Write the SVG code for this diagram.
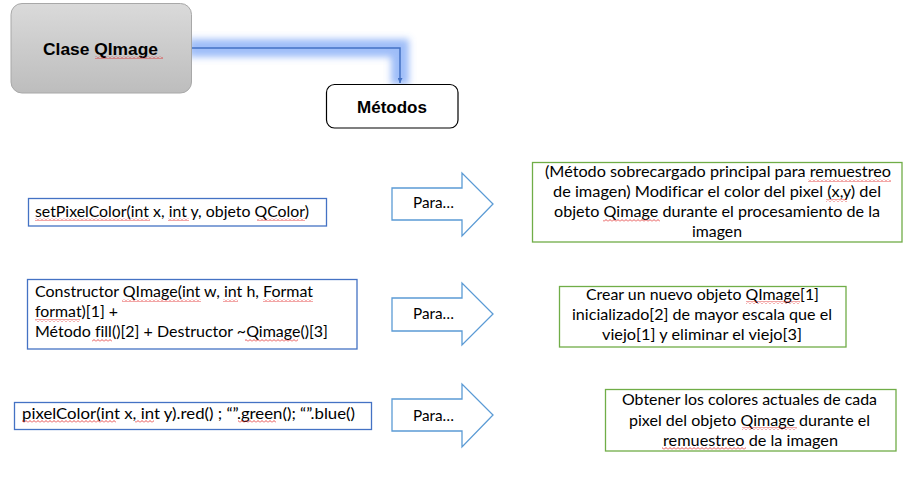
<svg xmlns="http://www.w3.org/2000/svg" width="909" height="481" viewBox="0 0 909 481">
<defs>
<linearGradient id="gray" x1="0" y1="0" x2="0" y2="1">
<stop offset="0" stop-color="#dadada"/>
<stop offset="1" stop-color="#bdbdbd"/>
</linearGradient>
<filter id="glow" x="-30%" y="-100%" width="160%" height="300%">
<feGaussianBlur stdDeviation="3.5"/>
</filter>
<marker id="ah" viewBox="0 0 10 10" refX="10" refY="5" markerWidth="5" markerHeight="5" orient="auto" markerUnits="userSpaceOnUse">
<path d="M0,0 L10,5 L0,10 z" fill="#4472c4"/>
</marker>
<pattern id="sq" width="4" height="3" patternUnits="userSpaceOnUse">
<path d="M0,2.5 L2,0.5 L4,2.5" fill="none" stroke="#e02020" stroke-width="0.8"/>
</pattern>
<style>
.title{font-family:"Liberation Sans",Arial,sans-serif;font-weight:bold;font-size:17px;fill:#000}
.t{font-family:Lato,"Liberation Sans",sans-serif;font-size:16px;fill:#000;font-variant-ligatures:none}
.c{font-family:Lato,"Liberation Sans",sans-serif;font-size:16px;fill:#000;text-anchor:middle;font-variant-ligatures:none}
.lbox{fill:#fff;stroke:#4472c4;stroke-width:1.3}
.rbox{fill:#fff;stroke:#70ad47;stroke-width:1.3}
.para{fill:#fff;stroke:#5b9bd5;stroke-width:1.3}
.sq{fill:url(#sq)}
</style>
</defs>
<rect width="909" height="481" fill="#fff"/>

<g id="connectors">
<path d="M188,48 H400 V85" fill="none" stroke="#4f86f2" stroke-width="18" stroke-opacity="0.55" filter="url(#glow)"/>
<path d="M191,48 H400 V83" fill="none" stroke="#4472c4" stroke-width="1.5" marker-end="url(#ah)"/>
</g>

<g id="clase-qimage">
<rect x="11" y="3.5" width="180.5" height="89.5" rx="11" fill="url(#gray)" stroke="#a8a8a8" stroke-width="1"/>
<text class="title" x="43" y="55" textLength="115" lengthAdjust="spacingAndGlyphs">Clase QImage</text>
<rect class="sq" x="95" y="56" width="68" height="3"/>
</g>

<g id="metodos">
<rect x="326.5" y="84.5" width="131.5" height="43.5" rx="8" fill="#fff" stroke="#000" stroke-width="1.2"/>
<text class="title" x="357" y="113" textLength="70" lengthAdjust="spacingAndGlyphs">Métodos</text>
</g>

<g id="setpixelcolor">
<rect class="lbox" x="28.5" y="198.5" width="298" height="27.5"/>
<text class="t" x="35" y="217" textLength="274" lengthAdjust="spacingAndGlyphs">setPixelColor(int x, int y, objeto QColor)</text>
<rect class="sq" x="35" y="218" width="115" height="3"/>
<rect class="sq" x="168" y="218" width="21" height="3"/>
<rect class="sq" x="257" y="218" width="48" height="3"/>
</g>

<g id="constructor">
<rect class="lbox" x="27.5" y="279.5" width="329.5" height="69.5"/>
<text class="t" x="35" y="297" textLength="278" lengthAdjust="spacingAndGlyphs">Constructor QImage(int w, int h, Format</text>
<text class="t" x="35" y="317" textLength="83" lengthAdjust="spacingAndGlyphs">format)[1] +</text>
<text class="t" x="35" y="337" textLength="293" lengthAdjust="spacingAndGlyphs">Método fill()[2] + Destructor ~Qimage()[3]</text>
<rect class="sq" x="122" y="299" width="79" height="3"/>
<rect class="sq" x="223" y="299" width="15" height="3"/>
<rect class="sq" x="263" y="299" width="50" height="3"/>
<rect class="sq" x="35" y="319" width="45" height="3"/>
<rect class="sq" x="92" y="339" width="20" height="3"/>
<rect class="sq" x="245" y="339" width="53" height="3"/>
</g>

<g id="pixelcolor">
<rect class="lbox" x="14.5" y="402.5" width="357" height="27"/>
<text class="t" x="22" y="419" textLength="333" lengthAdjust="spacingAndGlyphs">pixelColor(int x, int y).red() ; “”.green(); “”.blue()</text>
<rect class="sq" x="22" y="420" width="94" height="3"/>
<rect class="sq" x="135" y="420" width="19" height="3"/>
<rect class="sq" x="238" y="420" width="38" height="3"/>
</g>

<g id="para1">
<path class="para" d="M392,188 H462 V173 L493,204 L462,236 V220 H392 z"/>
<text class="t" x="413" y="208" textLength="41" lengthAdjust="spacingAndGlyphs">Para…</text>
</g>
<g id="para2">
<path class="para" d="M392,298 H462 V283 L493,314 L462,345 V331 H392 z"/>
<text class="t" x="413" y="319" textLength="41" lengthAdjust="spacingAndGlyphs">Para…</text>
</g>
<g id="para3">
<path class="para" d="M392,399 H462 V384 L493,415 L462,447 V431 H392 z"/>
<text class="t" x="413" y="421" textLength="41" lengthAdjust="spacingAndGlyphs">Para…</text>
</g>

<g id="desc1">
<rect class="rbox" x="532.5" y="162.5" width="369.5" height="79.5"/>
<text class="c" x="718" y="177" textLength="346" lengthAdjust="spacingAndGlyphs">(Método sobrecargado principal para remuestreo</text>
<text class="c" x="717" y="197" textLength="328" lengthAdjust="spacingAndGlyphs">de imagen) Modificar el color del pixel (x,y) del</text>
<text class="c" x="717" y="217" textLength="326" lengthAdjust="spacingAndGlyphs">objeto Qimage durante el procesamiento de la</text>
<text class="c" x="717" y="237" textLength="50" lengthAdjust="spacingAndGlyphs">imagen</text>
<rect class="sq" x="808" y="179" width="83" height="3"/>
<rect class="sq" x="826" y="199" width="21" height="3"/>
<rect class="sq" x="603" y="219" width="57" height="3"/>
</g>

<g id="desc2">
<rect class="rbox" x="559.5" y="286.5" width="286.5" height="60.5"/>
<text class="c" x="702.5" y="300" textLength="233" lengthAdjust="spacingAndGlyphs">Crear un nuevo objeto QImage[1]</text>
<text class="c" x="702" y="320" textLength="260" lengthAdjust="spacingAndGlyphs">inicializado[2] de mayor escala que el</text>
<text class="c" x="702" y="340" textLength="200" lengthAdjust="spacingAndGlyphs">viejo[1] y eliminar el viejo[3]</text>
<rect class="sq" x="746" y="301" width="54" height="3"/>
</g>

<g id="desc3">
<rect class="rbox" x="605.5" y="389.5" width="290.5" height="61.5"/>
<text class="c" x="749.5" y="405" textLength="255" lengthAdjust="spacingAndGlyphs">Obtener los colores actuales de cada</text>
<text class="c" x="749.5" y="426" textLength="241" lengthAdjust="spacingAndGlyphs">pixel del objeto Qimage durante el</text>
<text class="c" x="750.5" y="446" textLength="175" lengthAdjust="spacingAndGlyphs">remuestreo de la imagen</text>
<rect class="sq" x="742" y="427" width="55" height="3"/>
<rect class="sq" x="662" y="447" width="84" height="3"/>
</g>
</svg>
